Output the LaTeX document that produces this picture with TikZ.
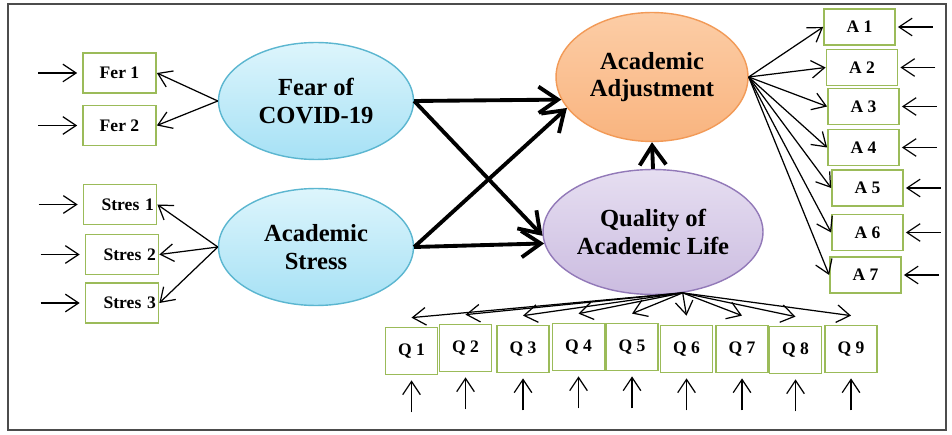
\documentclass[tikz,border=0pt]{standalone}
\usepackage{fontspec}
\setmainfont{Liberation Serif}
\usetikzlibrary{positioning,shapes.geometric,arrows.meta,calc}

\definecolor{boxgreen}{HTML}{9BBB59}
\definecolor{cyanedge}{HTML}{5BB6D0}
\definecolor{cyantop}{HTML}{DDF5FC}
\definecolor{cyanbot}{HTML}{A6E1F5}
\definecolor{orangeedge}{HTML}{F29A57}
\definecolor{orangetop}{HTML}{FCCDA6}
\definecolor{orangebot}{HTML}{F9B47F}
\definecolor{purpleedge}{HTML}{9279B8}
\definecolor{purpletop}{HTML}{E6DEF1}
\definecolor{purplebot}{HTML}{CBBCE0}

\begin{document}
\begin{tikzpicture}[x=0.02cm, y=-0.02cm,
    latent/.style={draw, line width=0.8pt, shape=ellipse, inner sep=0pt, align=center,
        font=\fontsize{14}{15.5}\selectfont\bfseries},
    cyanvar/.style={latent, draw=cyanedge, top color=cyantop, bottom color=cyanbot,
        minimum width=3.9cm, minimum height=2.34cm},
    item/.style={draw=boxgreen, line width=1pt, fill=white, inner sep=1pt,
        font=\fontsize{10}{12}\selectfont\bfseries},
    lbox/.style={item, minimum width=1.46cm, minimum height=0.8cm},
    abox/.style={item, minimum width=1.42cm, minimum height=0.72cm},
    qbox/.style={item, minimum width=1.04cm, minimum height=0.94cm},
    load/.style={-{Straight Barb[length=7.5pt,width=10pt]}, line width=0.7pt},
    strong/.style={-{Straight Barb[length=11pt,width=15pt]}, line width=2.2pt}]

    \useasboundingbox (0,0) rectangle (952,435);
    \draw[line width=1.2pt, draw=black!70] (8,4) rectangle (946,430);

    % latent variables
    \node[cyanvar] (fear) at (316,101) {Fear of\\COVID-19};
    \node[cyanvar] (stress) at (316,247) {Academic\\Stress};
    \node[latent, draw=orangeedge, top color=orangetop, bottom color=orangebot,
        minimum width=3.84cm, minimum height=2.58cm] (adj) at (652,77) {Academic\\Adjustment};
    \node[latent, draw=purpleedge, top color=purpletop, bottom color=purplebot,
        minimum width=4.4cm, minimum height=2.5cm] (qal) at (653,232) {Quality of\\Academic Life};

    % indicators
    \node[lbox] (fer1) at (119.5,73) {Fer 1};
    \node[lbox] (fer2) at (119.5,125.5) {Fer 2};
    \node[lbox, text width=1.36cm, align=right] (stres1) at (120,204.5) {Stres 1};
    \node[lbox, text width=1.36cm, align=right] (stres2) at (122,254.5) {Stres 2};
    \node[lbox, text width=1.36cm, align=right] (stres3) at (122,303) {Stres 3};

    \foreach \i/\x/\y in {1/859.5/27, 2/862/67.5, 3/863.5/106.5, 4/863.5/147.5,
                          5/867.5/188, 6/867.5/232.5, 7/865.5/275}
        \node[abox] (a\i) at (\x,\y) {A \i};

    \foreach \i/\x/\y in {1/411.5/351, 2/465.5/348, 3/523/349, 4/578.5/347, 5/632/347,
                          6/686.5/349, 7/742/349, 8/795.5/350, 9/851/349}
        \node[qbox] (q\i) at (\x,\y) {Q \i};

    % structural paths
    \draw[strong] (fear.east) -- (adj.194);
    \draw[strong] (fear.east) -- (qal.182);
    \draw[strong] (stress.east) -- (adj.200);
    \draw[strong] (stress.east) -- (qal.186);
    \draw[strong] (qal.north) -- (adj.south);

    % loadings
    \foreach \b in {fer1,fer2}
        \draw[load] (fear.west) -- (\b.east);
    \foreach \b in {stres1,stres2,stres3}
        \draw[load] (stress.west) -- (\b.east);
    \foreach \i in {1,...,7}
        \draw[load] (adj.east) -- (a\i.west);
    \foreach \i in {1,...,9} {
        \coordinate (t\i) at ([yshift=0.18cm]q\i.north);
        \draw[load] (qal.296) -- (t\i);
    }

    % error terms
    \foreach \b in {fer1,fer2,stres1,stres2,stres3} {
        \coordinate (e\b) at ([xshift=-0.88cm]\b.west);
        \draw[load, shorten >=0.1cm] (e\b) -- (\b);
    }
    \foreach \i in {1,...,7} {
        \coordinate (ea\i) at ([xshift=0.74cm]a\i.east);
        \draw[load, shorten >=0.04cm] (ea\i) -- (a\i);
    }
    \foreach \i in {1,...,9} {
        \coordinate (eq\i) at ([yshift=-0.74cm]q\i.south);
        \draw[load, shorten >=0.1cm] (eq\i) -- (q\i);
    }
\end{tikzpicture}
\end{document}
